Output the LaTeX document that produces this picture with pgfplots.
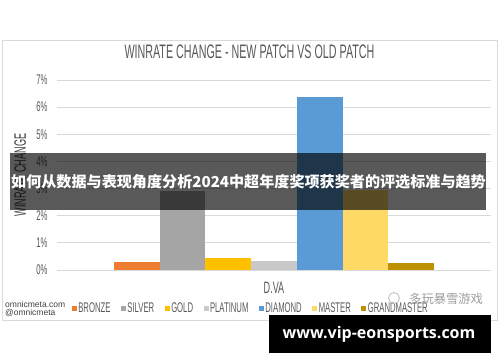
\documentclass[border=0pt]{standalone}
\usepackage{pgfplots}
\pgfplotsset{compat=1.18}
\usepackage{fontspec}
\setmainfont{Liberation Sans}
\newfontfamily\noodle{Liberation Sans}[FakeStretch=0.55]
\newfontfamily\cjk{Noto Sans CJK SC}
\newfontfamily\urlfont{Open Sans}
\definecolor{cBronze}{HTML}{ED7D31}
\definecolor{cSilver}{HTML}{A5A5A5}
\definecolor{cGold}{HTML}{FFC000}
\definecolor{cPlat}{HTML}{C9C9C9}
\definecolor{cDiamond}{HTML}{5B9BD5}
\definecolor{cMaster}{HTML}{FFD966}
\definecolor{cGM}{HTML}{BF9000}
\definecolor{txtgray}{HTML}{595959}
\definecolor{gridgray}{HTML}{D9D9D9}
\begin{document}
\begin{tikzpicture}[x=1pt,y=1pt]
\path[use as bounding box,fill=white] (0,0) rectangle (500,362);
\draw[gridgray,line width=0.8pt] (2,322) rectangle (497,42);
\begin{axis}[
  at={(57pt,92pt)}, anchor=south west,
  scale only axis, width=434pt, height=190pt,
  ybar, bar width=45.7pt,
  xmin=-1.747, xmax=7.747, ymin=0, ymax=7,
  ytick={0,1,2,3,4,5,6,7}, xtick=\empty,
  yticklabel={\pgfmathprintnumber{\tick}\%},
  /pgf/number format/assume math mode=true,
  ymajorgrids, grid style={gridgray, line width=0.8pt},
  axis line style={draw=none},
  major tick length=0pt,
  yticklabel style={font=\noodle\fontsize{14}{14}\selectfont, text=txtgray, anchor=east, xshift=-6pt},
  title={WINRATE CHANGE - NEW PATCH VS OLD PATCH},
  title style={font=\noodle\fontsize{19.5}{20}\selectfont, text=txtgray, at={(axis description cs:0.4435,1.1158)}, anchor=center},
  ylabel={WINRATE CHANGE},
  ylabel style={font=\noodle\fontsize{16.5}{17}\selectfont, text=black!75, at={(axis description cs:-0.085,0.5)}, anchor=center, rotate=0},
  xlabel={D.VA},
  xlabel style={font=\noodle\fontsize{16.5}{17}\selectfont, text=txtgray, at={(axis description cs:0.5,-0.0926)}, anchor=center},
  legend columns=7,
  legend style={at={(axis description cs:0.446,-0.2)}, anchor=center, draw=none, fill=none,
    font=\noodle\fontsize{14}{14}\selectfont, text=txtgray,
    /tikz/every even column/.append style={column sep=9pt},
    /tikz/every odd column/.append style={column sep=0pt},
    nodes={inner sep=1.5pt}},
  legend image code/.code={\fill[#1,draw=none] (0pt,-2.5pt) rectangle (5pt,2.5pt);},
]
\addplot[fill=cBronze, draw=none, bar shift=0pt] coordinates {(0,0.28)};
\addplot[fill=cSilver, draw=none, bar shift=0pt] coordinates {(1,2.90)};
\addplot[fill=cGold, draw=none, bar shift=0pt] coordinates {(2,0.44)};
\addplot[fill=cPlat, draw=none, bar shift=0pt] coordinates {(3,0.33)};
\addplot[fill=cDiamond, draw=none, bar shift=0pt] coordinates {(4,6.36)};
\addplot[fill=cMaster, draw=none, bar shift=0pt] coordinates {(5,2.94)};
\addplot[fill=cGM, draw=none, bar shift=0pt] coordinates {(6,0.27)};
\legend{BRONZE,SILVER,GOLD,PLATINUM,DIAMOND,MASTER,GRANDMASTER}
\end{axis}
% footer credit
\node[anchor=west, font=\fontsize{8.5}{9}\selectfont, text=black!75, inner sep=0pt] at (5,58) {omnicmeta.com};
\node[anchor=west, font=\fontsize{8.5}{9}\selectfont, text=black!75, inner sep=0pt] at (5,49) {@omnicmeta};
% watermark
\draw[black!25, line width=0.8pt] (394,64) circle (5.5);
\node[anchor=west, font=\cjk\fontsize{12.3}{13}\selectfont, text=black!38, inner sep=0pt] at (409,63) {多玩暴雪游戏};
% banner
\fill[black, opacity=0.65] (10,152) rectangle (486,209);
\node[font=\cjk\bfseries\fontsize{15.1}{16}\selectfont, text=white, inner sep=0pt] at (248.5,180) {如何从数据与表现角度分析2024中超年度奖项获奖者的评选标准与趋势};
% url box
\fill[black] (269,47) rectangle (491,9);
\node[font=\urlfont\bfseries\fontsize{16}{17}\selectfont, text=white, inner sep=0pt] at (379,28) {www.vip-eonsports.com};
\end{tikzpicture}
\end{document}
